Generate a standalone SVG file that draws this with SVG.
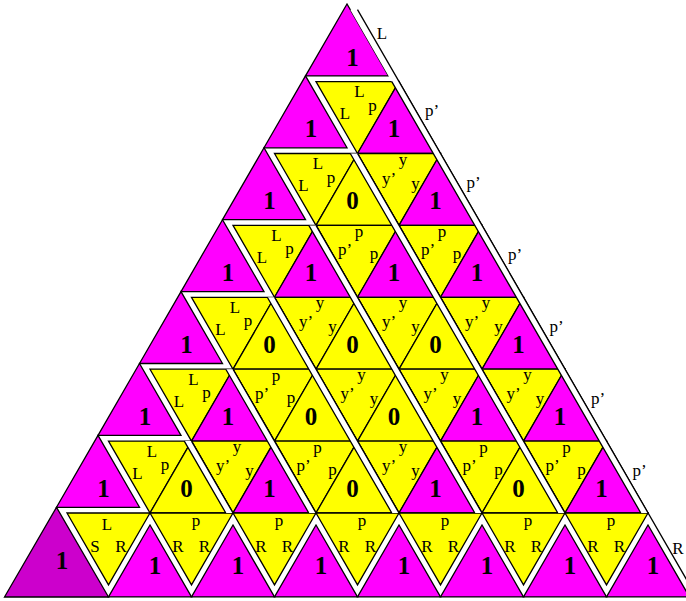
<svg xmlns="http://www.w3.org/2000/svg" xmlns:xlink="http://www.w3.org/1999/xlink" width="686" height="601" viewBox="0 0 686 601">
<style>
.m{fill:#ff00ff;stroke:#000;stroke-width:1.3;stroke-linejoin:miter}
.y{fill:#ffff00;stroke:#000;stroke-width:1.3}
.d{fill:#cc00cc;stroke:#000;stroke-width:1.3}
.ln{stroke:#000;stroke-width:1.3;fill:none}
.gap{fill:#fff;stroke:none}
text{font-family:"Liberation Serif","Times New Roman",serif}
.lb{font-size:17px;text-anchor:middle}
.dg{font-size:25px;font-weight:bold;text-anchor:middle}
</style>
<defs>
<polygon id="U" points="41.5,0 0,71.9 83,71.9"/>
<polygon id="V" points="0,0 83,0 41.5,71.9"/>
</defs>
<rect width="686" height="601" fill="#fff"/>

<!-- left column -->
<g id="L0" transform="translate(305.5,4)"><use href="#U" class="m"/><text class="dg" x="47" y="61.5">1</text></g>
<g id="L1" transform="translate(264,75.9)"><use href="#U" class="m"/><text class="dg" x="47" y="61.5">1</text></g>
<g id="L2" transform="translate(222.5,147.8)"><use href="#U" class="m"/><text class="dg" x="47" y="61.5">1</text></g>
<g id="L3" transform="translate(181,219.7)"><use href="#U" class="m"/><text class="dg" x="47" y="61.5">1</text></g>
<g id="L4" transform="translate(139.5,291.6)"><use href="#U" class="m"/><text class="dg" x="47" y="61.5">1</text></g>
<g id="L5" transform="translate(98,363.5)"><use href="#U" class="m"/><text class="dg" x="47" y="61.5">1</text></g>
<g id="L6" transform="translate(56.5,435.4)"><use href="#U" class="m"/><text class="dg" x="47" y="61.5">1</text></g>
<g id="S0"><polygon class="d" points="56.5,507.3 4.5,597 108.5,597"/><text class="dg" x="62" y="568.5">1</text></g>

<!-- row 1 -->
<g id="v1_0" transform="translate(316,81.6)"><use href="#V" class="y"/><text class="lb" x="43.5" y="15.5">L</text><text class="lb" x="29" y="37.5">L</text><text class="lb" x="56.5" y="29">p</text></g>
<g id="u1_1" transform="translate(357.5,81.6)"><use href="#U" class="m"/><text class="dg" x="36.5" y="55.8">1</text></g>
<!-- row 2 -->
<g id="v2_0" transform="translate(274.5,153.5)"><use href="#V" class="y"/><text class="lb" x="43.5" y="15.5">L</text><text class="lb" x="29" y="37.5">L</text><text class="lb" x="56.5" y="29">p</text></g>
<g id="v2_1" transform="translate(357.5,153.5)"><use href="#V" class="y"/><text class="lb" x="45.5" y="11">y</text><text class="lb" x="31.5" y="30">y’</text><text class="lb" x="58" y="35">y</text></g>
<g id="u2_1" transform="translate(316,153.5)"><use href="#U" class="y"/><text class="dg" x="36.5" y="55.8">0</text></g>
<g id="u2_2" transform="translate(399,153.5)"><use href="#U" class="m"/><text class="dg" x="36.5" y="55.8">1</text></g>
<!-- row 3 -->
<g id="v3_0" transform="translate(233,225.4)"><use href="#V" class="y"/><text class="lb" x="43.5" y="15.5">L</text><text class="lb" x="29" y="37.5">L</text><text class="lb" x="56.5" y="29">p</text></g>
<g id="v3_1" transform="translate(316,225.4)"><use href="#V" class="y"/><text class="lb" x="43" y="12">p</text><text class="lb" x="29.2" y="30">p’</text><text class="lb" x="58" y="34">p</text></g>
<g id="v3_2" transform="translate(399,225.4)"><use href="#V" class="y"/><text class="lb" x="43" y="12">p</text><text class="lb" x="29.2" y="30">p’</text><text class="lb" x="58" y="34">p</text></g>
<g id="u3_1" transform="translate(274.5,225.4)"><use href="#U" class="m"/><text class="dg" x="36.5" y="55.8">1</text></g>
<g id="u3_2" transform="translate(357.5,225.4)"><use href="#U" class="m"/><text class="dg" x="36.5" y="55.8">1</text></g>
<g id="u3_3" transform="translate(440.5,225.4)"><use href="#U" class="m"/><text class="dg" x="36.5" y="55.8">1</text></g>
<!-- row 4 -->
<g id="v4_0" transform="translate(191.5,297.3)"><use href="#V" class="y"/><text class="lb" x="43.5" y="15.5">L</text><text class="lb" x="29" y="37.5">L</text><text class="lb" x="56.5" y="29">p</text></g>
<g id="v4_1" transform="translate(274.5,297.3)"><use href="#V" class="y"/><text class="lb" x="45.5" y="11">y</text><text class="lb" x="31.5" y="30">y’</text><text class="lb" x="58" y="35">y</text></g>
<g id="v4_2" transform="translate(357.5,297.3)"><use href="#V" class="y"/><text class="lb" x="45.5" y="11">y</text><text class="lb" x="31.5" y="30">y’</text><text class="lb" x="58" y="35">y</text></g>
<g id="v4_3" transform="translate(440.5,297.3)"><use href="#V" class="y"/><text class="lb" x="45.5" y="11">y</text><text class="lb" x="31.5" y="30">y’</text><text class="lb" x="58" y="35">y</text></g>
<g id="u4_1" transform="translate(233,297.3)"><use href="#U" class="y"/><text class="dg" x="36.5" y="55.8">0</text></g>
<g id="u4_2" transform="translate(316,297.3)"><use href="#U" class="y"/><text class="dg" x="36.5" y="55.8">0</text></g>
<g id="u4_3" transform="translate(399,297.3)"><use href="#U" class="y"/><text class="dg" x="36.5" y="55.8">0</text></g>
<g id="u4_4" transform="translate(482,297.3)"><use href="#U" class="m"/><text class="dg" x="36.5" y="55.8">1</text></g>
<!-- row 5 -->
<g id="v5_0" transform="translate(150,369.2)"><use href="#V" class="y"/><text class="lb" x="43.5" y="15.5">L</text><text class="lb" x="29" y="37.5">L</text><text class="lb" x="56.5" y="29">p</text></g>
<g id="v5_1" transform="translate(233,369.2)"><use href="#V" class="y"/><text class="lb" x="43" y="12">p</text><text class="lb" x="29.2" y="30">p’</text><text class="lb" x="58" y="34">p</text></g>
<g id="v5_2" transform="translate(316,369.2)"><use href="#V" class="y"/><text class="lb" x="45.5" y="11">y</text><text class="lb" x="31.5" y="30">y’</text><text class="lb" x="58" y="35">y</text></g>
<g id="v5_3" transform="translate(399,369.2)"><use href="#V" class="y"/><text class="lb" x="45.5" y="11">y</text><text class="lb" x="31.5" y="30">y’</text><text class="lb" x="58" y="35">y</text></g>
<g id="v5_4" transform="translate(482,369.2)"><use href="#V" class="y"/><text class="lb" x="45.5" y="11">y</text><text class="lb" x="31.5" y="30">y’</text><text class="lb" x="58" y="35">y</text></g>
<g id="u5_1" transform="translate(191.5,369.2)"><use href="#U" class="m"/><text class="dg" x="36.5" y="55.8">1</text></g>
<g id="u5_2" transform="translate(274.5,369.2)"><use href="#U" class="y"/><text class="dg" x="36.5" y="55.8">0</text></g>
<g id="u5_3" transform="translate(357.5,369.2)"><use href="#U" class="y"/><text class="dg" x="36.5" y="55.8">0</text></g>
<g id="u5_4" transform="translate(440.5,369.2)"><use href="#U" class="m"/><text class="dg" x="36.5" y="55.8">1</text></g>
<g id="u5_5" transform="translate(523.5,369.2)"><use href="#U" class="m"/><text class="dg" x="36.5" y="55.8">1</text></g>
<!-- row 6 -->
<g id="v6_0" transform="translate(108.5,441.1)"><use href="#V" class="y"/><text class="lb" x="43.5" y="15.5">L</text><text class="lb" x="29" y="37.5">L</text><text class="lb" x="56.5" y="29">p</text></g>
<g id="v6_1" transform="translate(191.5,441.1)"><use href="#V" class="y"/><text class="lb" x="45.5" y="11">y</text><text class="lb" x="31.5" y="30">y’</text><text class="lb" x="58" y="35">y</text></g>
<g id="v6_2" transform="translate(274.5,441.1)"><use href="#V" class="y"/><text class="lb" x="43" y="12">p</text><text class="lb" x="29.2" y="30">p’</text><text class="lb" x="58" y="34">p</text></g>
<g id="v6_3" transform="translate(357.5,441.1)"><use href="#V" class="y"/><text class="lb" x="45.5" y="11">y</text><text class="lb" x="31.5" y="30">y’</text><text class="lb" x="58" y="35">y</text></g>
<g id="v6_4" transform="translate(440.5,441.1)"><use href="#V" class="y"/><text class="lb" x="43" y="12">p</text><text class="lb" x="29.2" y="30">p’</text><text class="lb" x="58" y="34">p</text></g>
<g id="v6_5" transform="translate(523.5,441.1)"><use href="#V" class="y"/><text class="lb" x="43" y="12">p</text><text class="lb" x="29.2" y="30">p’</text><text class="lb" x="58" y="34">p</text></g>
<g id="u6_1" transform="translate(150,441.1)"><use href="#U" class="y"/><text class="dg" x="36.5" y="55.8">0</text></g>
<g id="u6_2" transform="translate(233,441.1)"><use href="#U" class="m"/><text class="dg" x="36.5" y="55.8">1</text></g>
<g id="u6_3" transform="translate(316,441.1)"><use href="#U" class="y"/><text class="dg" x="36.5" y="55.8">0</text></g>
<g id="u6_4" transform="translate(399,441.1)"><use href="#U" class="m"/><text class="dg" x="36.5" y="55.8">1</text></g>
<g id="u6_5" transform="translate(482,441.1)"><use href="#U" class="y"/><text class="dg" x="36.5" y="55.8">0</text></g>
<g id="u6_6" transform="translate(565,441.1)"><use href="#U" class="m"/><text class="dg" x="36.5" y="55.8">1</text></g>
<!-- row 7 (bottom) -->
<g id="v7_0" transform="translate(67,513)"><use href="#V" class="y"/><text class="lb" x="40" y="17">L</text><text class="lb" x="28" y="39">S</text><text class="lb" x="54" y="39">R</text></g>
<g id="v7_1" transform="translate(150,513)"><use href="#V" class="y"/><text class="lb" x="46" y="12.5">p</text><text class="lb" x="28" y="39">R</text><text class="lb" x="54.5" y="39">R</text></g>
<g id="v7_2" transform="translate(233,513)"><use href="#V" class="y"/><text class="lb" x="46" y="12.5">p</text><text class="lb" x="28" y="39">R</text><text class="lb" x="54.5" y="39">R</text></g>
<g id="v7_3" transform="translate(316,513)"><use href="#V" class="y"/><text class="lb" x="46" y="12.5">p</text><text class="lb" x="28" y="39">R</text><text class="lb" x="54.5" y="39">R</text></g>
<g id="v7_4" transform="translate(399,513)"><use href="#V" class="y"/><text class="lb" x="46" y="12.5">p</text><text class="lb" x="28" y="39">R</text><text class="lb" x="54.5" y="39">R</text></g>
<g id="v7_5" transform="translate(482,513)"><use href="#V" class="y"/><text class="lb" x="46" y="12.5">p</text><text class="lb" x="28" y="39">R</text><text class="lb" x="54.5" y="39">R</text></g>
<g id="v7_6" transform="translate(565,513)"><use href="#V" class="y"/><text class="lb" x="46" y="12.5">p</text><text class="lb" x="28" y="39">R</text><text class="lb" x="54.5" y="39">R</text></g>
<g id="b1" transform="translate(108.5,525)"><use href="#U" class="m"/><text class="dg" x="46.5" y="48.5">1</text></g>
<g id="b2" transform="translate(191.5,525)"><use href="#U" class="m"/><text class="dg" x="46.5" y="48.5">1</text></g>
<g id="b3" transform="translate(274.5,525)"><use href="#U" class="m"/><text class="dg" x="46.5" y="48.5">1</text></g>
<g id="b4" transform="translate(357.5,525)"><use href="#U" class="m"/><text class="dg" x="46.5" y="48.5">1</text></g>
<g id="b5" transform="translate(440.5,525)"><use href="#U" class="m"/><text class="dg" x="46.5" y="48.5">1</text></g>
<g id="b6" transform="translate(523.5,525)"><use href="#U" class="m"/><text class="dg" x="46.5" y="48.5">1</text></g>
<g id="b7" transform="translate(606.5,525)"><use href="#U" class="m"/><text class="dg" x="46.5" y="48.5">1</text></g>

<!-- cut strips -->
<g id="cuts">
<polygon class="gap" points="350.3,9.7 357.5,9.7 648,513 640.8,513"/>
<polygon class="gap" points="350.3,153.5 357.5,153.5 565,513 557.8,513"/>
<polygon class="gap" points="308.8,225.4 316,225.4 482,513 474.8,513"/>
<polygon class="gap" points="267.3,297.3 274.5,297.3 399,513 391.8,513"/>
<polygon class="gap" points="225.8,369.2 233,369.2 316,513 308.8,513"/>
<polygon class="gap" points="184.3,441.1 191.5,441.1 233,513 225.8,513"/>
<path class="ln" d="M391.8,81.6 L640.8,513 M357.5,9.7 L696.6,597 M350.3,153.5 L557.8,513 M357.5,153.5 L565,513 M308.8,225.4 L474.8,513 M316,225.4 L482,513 M267.3,297.3 L391.8,513 M274.5,297.3 L399,513 M225.8,369.2 L308.8,513 M233,369.2 L316,513 M184.3,441.1 L225.8,513 M191.5,441.1 L233,513"/>
</g>

<!-- boundary labels -->
<g id="edge-labels">
<text class="lb" x="382" y="39">L</text>
<text class="lb" x="432" y="116">p’</text>
<text class="lb" x="473.5" y="188">p’</text>
<text class="lb" x="515" y="260">p’</text>
<text class="lb" x="556.5" y="332">p’</text>
<text class="lb" x="598" y="404">p’</text>
<text class="lb" x="639.5" y="476">p’</text>
<text class="lb" x="678" y="554">R</text>
</g>
</svg>
